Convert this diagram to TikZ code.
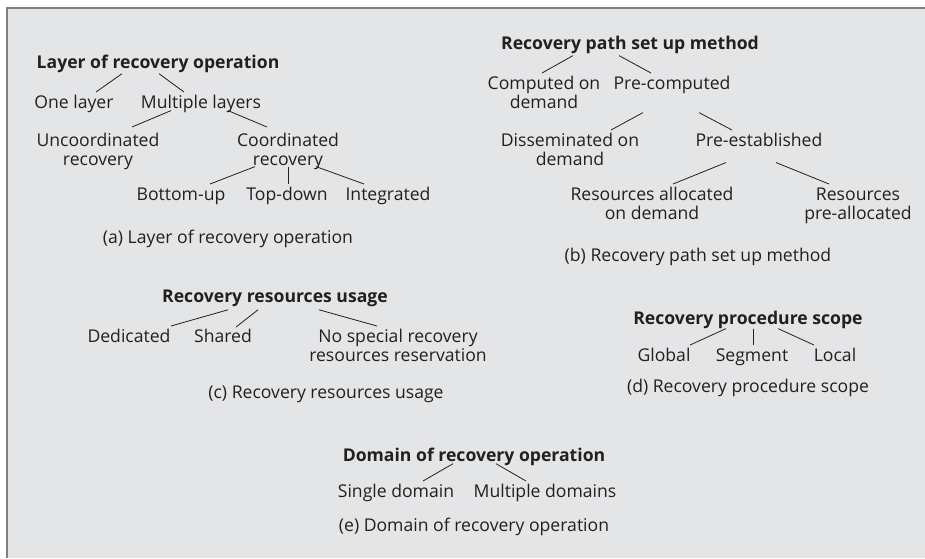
\documentclass[tikz,border=0pt]{standalone}
\usepackage{fontspec}
\setmainfont{Open Sans}

\definecolor{panelgray}{HTML}{E4E5E7}
\definecolor{framegray}{HTML}{7F8081}
\definecolor{inkblack}{HTML}{231F20}

\tikzset{
    lbl/.style={inner sep=0pt, outer xsep=0pt, outer ysep=3.5pt, anchor=north,
        align=center, text=inkblack, font=\fontsize{17.6}{19}\selectfont},
    head/.style={lbl, font=\fontsize{17.6}{19}\selectfont\bfseries},
    subcap/.style={lbl},
    link/.style={draw=inkblack, line width=0.8pt},
}

\begin{document}
\begin{tikzpicture}[x=1pt, y=-1pt]

    % Fix the size of the picture and draw the grey panel
    \useasboundingbox (0,0) rectangle (925,558);
    \fill[panelgray] (7,8) rectangle (925,558);
    \draw[framegray, line width=2pt] (6.5,558) -- (6.5,7.5) -- (925,7.5);

    % (a) Layer of recovery operation
    \node[head] (layer) at (158,52) {Layer of recovery operation};
    \node[lbl] (one) at (74,92) {One layer};
    \node[lbl] (multi) at (201,92) {Multiple layers};
    \node[lbl] (uncoord) at (98,130) {Uncoordinated\\recovery};
    \node[lbl] (coord) at (288,130) {Coordinated\\recovery};
    \node[lbl] (bottomup) at (181,184) {Bottom-up};
    \node[lbl] (topdown) at (287,184) {Top-down};
    \node[lbl] (integ) at (388,184) {Integrated};
    \node[subcap] (capa) at (228,227) {(a) Layer of recovery operation};

    \draw[link] ([xshift=-36pt,yshift=3pt]layer.south) -- ([xshift=22pt]one.north);
    \draw[link] ([xshift=1pt,yshift=3pt]layer.south) -- ([xshift=-17pt]multi.north);
    \draw[link] ([xshift=-30pt,yshift=6pt]multi.south) -- ([xshift=34pt,yshift=3pt]uncoord.north);
    \draw[link] ([xshift=27pt,yshift=6pt]multi.south) -- ([xshift=-21pt,yshift=3pt]coord.north);
    \draw[link] ([xshift=-33pt,yshift=7pt]coord.south) -- ([xshift=29pt]bottomup.north);
    \draw[link] ([yshift=7pt]coord.south) -- ([xshift=1pt]topdown.north);
    \draw[link] ([xshift=28pt,yshift=7pt]coord.south) -- ([xshift=-24pt]integ.north);

    % (b) Recovery path set up method
    \node[head] (setup) at (630,33) {Recovery path set up method};
    \node[lbl] (ondemand) at (544,73) {Computed on\\demand};
    \node[lbl] (precomp) at (672,73) {Pre-computed};
    \node[lbl] (dissem) at (570,130) {Disseminated on\\demand};
    \node[lbl] (preest) at (759,130) {Pre-established};
    \node[lbl] (alloc) at (652,184) {Resources allocated\\on demand};
    \node[lbl] (prealloc) at (858,184) {Resources\\pre-allocated};
    \node[subcap] (capb) at (698,245) {(b) Recovery path set up method};

    \draw[link] ([xshift=-57pt,yshift=2pt]setup.south) -- ([xshift=-2pt]ondemand.north);
    \draw[link] ([xshift=-11pt,yshift=2pt]setup.south) -- ([xshift=-21pt]precomp.north);
    \draw[link] ([xshift=-29pt,yshift=-15pt]precomp.south) -- ([xshift=41pt]dissem.north);
    \draw[link] ([xshift=27pt,yshift=-15pt]precomp.south) -- ([xshift=-27pt]preest.north);
    \draw[link] ([xshift=-33pt,yshift=-12pt]preest.south) -- ([xshift=21pt]alloc.north);
    \draw[link] ([xshift=17pt,yshift=-12pt]preest.south) -- ([xshift=-29pt]prealloc.north);

    % (c) Recovery resources usage
    \node[head] (usage) at (275,286) {Recovery resources usage};
    \node[lbl] (dedic) at (129,326) {Dedicated};
    \node[lbl] (shared) at (223,326) {Shared};
    \node[lbl] (nores) at (398,326) {No special recovery\\resources reservation};
    \node[subcap] (capc) at (326,382) {(c) Recovery resources usage};

    \draw[link] ([xshift=-47pt]usage.south) -- ([xshift=42pt]dedic.north);
    \draw[link] ([xshift=-17pt]usage.south) -- ([xshift=13pt,yshift=-1pt]shared.north);
    \draw[link] ([xshift=44pt]usage.south) -- ([xshift=-21pt]nores.north);

    % (d) Recovery procedure scope
    \node[head] (scope) at (748,308) {Recovery procedure scope};
    \node[lbl] (global) at (664,345) {Global};
    \node[lbl] (segment) at (752,345) {Segment};
    \node[lbl] (local) at (835,345) {Local};
    \node[subcap] (capd) at (748,376) {(d) Recovery procedure scope};

    \draw[link] ([xshift=-22pt,yshift=4pt]scope.south) -- ([xshift=26pt]global.north);
    \draw[link] ([xshift=5pt,yshift=4pt]scope.south) -- ([xshift=1pt]segment.north);
    \draw[link] ([xshift=30pt,yshift=4pt]scope.south) -- ([xshift=-21pt]local.north);

    % (e) Domain of recovery operation
    \node[head] (domain) at (474,445) {Domain of recovery operation};
    \node[lbl] (single) at (396,481) {Single domain};
    \node[lbl] (multidom) at (545,481) {Multiple domains};
    \node[subcap] (cape) at (474,515) {(e) Domain of recovery operation};

    \draw[link] ([xshift=-21pt,yshift=6pt]domain.south) -- ([xshift=27pt]single.north);
    \draw[link] ([xshift=22pt,yshift=6pt]domain.south) -- ([xshift=-19pt]multidom.north);

\end{tikzpicture}
\end{document}
